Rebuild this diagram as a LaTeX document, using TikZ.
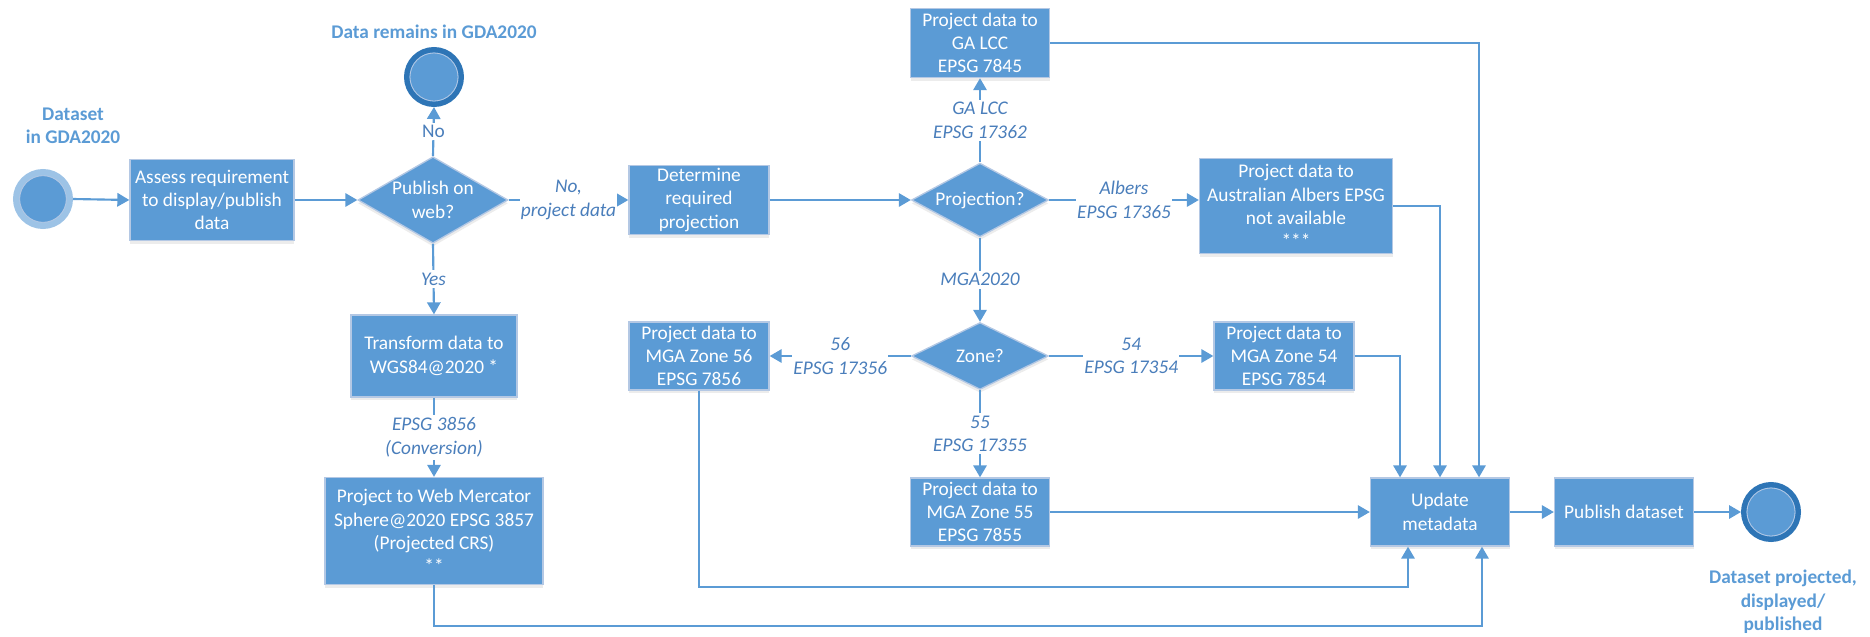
\documentclass[tikz,border=0pt]{standalone}
\usepackage{fontspec}
\setmainfont{Carlito}
\usepackage{xcolor}
\usepackage{tikz}
\usetikzlibrary{arrows.meta,shapes.geometric,shadows}
\definecolor{boxfill}{HTML}{5B9BD5}
\definecolor{boxedge}{HTML}{B4C8E4}
\definecolor{flowline}{HTML}{5B9BD5}
\definecolor{condtext}{HTML}{4A7EBB}
\definecolor{ringlight}{HTML}{9DC3E6}
\definecolor{ringdark}{HTML}{2E75B6}

\begin{document}
\begin{tikzpicture}[x=0.75pt, y=-0.75pt,
  >={Triangle[length=9pt,width=10pt]},
  task/.style={font=\fontsize{14.5}{17.5}\selectfont, draw=boxedge, line width=1pt,
    fill=boxfill, text=white, align=center, inner sep=0pt,
    drop shadow={opacity=0.15, shadow xshift=0pt, shadow yshift=-2.5pt}},
  gate/.style={task, diamond, inner sep=-6pt},
  flow/.style={->, flowline, line width=1.6pt},
  cond/.style={font=\fontsize{14.5}{17.5}\selectfont\itshape, text=condtext,
    fill=white, align=center, inner xsep=1pt, inner ysep=2pt},
  title/.style={font=\fontsize{14.5}{17.5}\selectfont\bfseries, text=boxfill, align=center}]

  \useasboundingbox (0,0) rectangle (1870,636);

  % --- Start and end events ---
  \node[circle, draw=ringlight, line width=5pt, fill=boxfill, minimum size=40pt,
    inner sep=0pt] (start) at (43,199) {};
  \draw[boxedge, line width=0.6pt] (start) circle (17.5pt);
  \node[title] at (73,126) {Dataset\\in GDA2020};

  \node[circle, draw=ringdark, line width=4pt, fill=boxfill, minimum size=41pt,
    inner sep=0pt] (kept) at (434,77) {};
  \draw[boxedge, line width=0.6pt] (kept) circle (18pt);
  \node[title] at (434,32) {Data remains in GDA2020};

  \node[circle, draw=ringdark, line width=4pt, fill=boxfill, minimum size=41pt,
    inner sep=0pt] (finish) at (1771,512) {};
  \draw[boxedge, line width=0.6pt] (finish) circle (18pt);
  \node[title] at (1783,602) {Dataset projected,\\displayed/\\published};

  % --- Web branch ---
  \node[task, minimum width=123pt, minimum height=60.75pt] (assess) at (212,200)
    {Assess requirement\\to display/publish\\data};
  \node[gate, minimum width=112.5pt, minimum height=54.75pt] (publish) at (433,200)
    {Publish on\\web?};
  \node[task, minimum width=124.5pt, minimum height=61.5pt] (transform) at (434,356)
    {Transform data to\\WGS84@2020 *};
  \node[task, minimum width=163.5pt, minimum height=80.25pt] (webmerc) at (434,531)
    {Project to Web Mercator\\Sphere@2020 EPSG 3857\\(Projected CRS)\\**};

  % --- Projection branch ---
  \node[task, minimum width=105pt, minimum height=51.75pt] (determine) at (699,200)
    {Determine\\required\\projection};
  \node[gate, minimum width=102.75pt, minimum height=50.25pt] (projq) at (980,200)
    {Projection?};
  \node[task, minimum width=104.25pt, minimum height=51.75pt] (galcc) at (980,43)
    {Project data to\\GA LCC\\EPSG 7845};
  \node[task, minimum width=144.75pt, minimum height=71.25pt] (albers) at (1296,206)
    {Project data to\\Australian Albers EPSG\\not available\\***};
  \node[gate, minimum width=102.75pt, minimum height=50.25pt] (zoneq) at (980,356)
    {Zone?};
  \node[task, minimum width=105pt, minimum height=51pt] (zone56) at (699,356)
    {Project data to\\MGA Zone 56\\EPSG 7856};
  \node[task, minimum width=104.25pt, minimum height=51pt] (zone55) at (980,512)
    {Project data to\\MGA Zone 55\\EPSG 7855};
  \node[task, minimum width=105pt, minimum height=51pt] (zone54) at (1284,356)
    {Project data to\\MGA Zone 54\\EPSG 7854};

  % --- Closing steps ---
  \node[task, minimum width=104.25pt, minimum height=51pt] (update) at (1440,512)
    {Update\\metadata};
  \node[task, minimum width=104.25pt, minimum height=51pt] (release) at (1624,512)
    {Publish dataset};

  % --- Connectors ---
  \draw[flow] (start.east) -- (assess.west);
  \draw[flow] (assess.east) -- (publish.west);
  \draw[flow] (publish.north) -- node[cond, font=\fontsize{14.5}{17.5}\selectfont] {No} (kept.south);
  \draw[flow] (publish.east) -- node[cond] {No,\\project data} (determine.west);
  \draw[flow] (publish.south) -- node[cond] {Yes} (transform.north);
  \draw[flow] (transform.south) -- node[cond] {EPSG 3856\\(Conversion)} (webmerc.north);
  \draw[flow] (determine.east) -- (projq.west);
  \draw[flow] (projq.north) -- node[cond] {GA LCC\\EPSG 17362} (galcc.south);
  \draw[flow] (projq.east) -- node[cond] {Albers\\EPSG 17365} (projq.east -| albers.west);
  \draw[flow] (projq.south) -- node[cond] {MGA2020} (zoneq.north);
  \draw[flow] (zoneq.west) -- node[cond] {56\\EPSG 17356} (zone56.east);
  \draw[flow] (zoneq.east) -- node[cond] {54\\EPSG 17354} (zone54.west);
  \draw[flow] (zoneq.south) -- node[cond] {55\\EPSG 17355} (zone55.north);

  % --- Into metadata update ---
  \draw[flow] (galcc.east) -| ([xshift=29.25pt]update.north);
  \draw[flow] (albers.east) -| (update.north);
  \draw[flow] (zone54.east) -| ([xshift=-30pt]update.north);
  \draw[flow] (zone55.east) -- (update.west);
  \draw[flow] (zone56.south) -- ++(0,196) -| ([xshift=-24pt]update.south);
  \draw[flow] (webmerc.south) -- ++(0,41) -| ([xshift=31.5pt]update.south);
  \draw[flow] (update.east) -- (release.west);
  \draw[flow] (release.east) -- (finish.west);

\end{tikzpicture}
\end{document}
